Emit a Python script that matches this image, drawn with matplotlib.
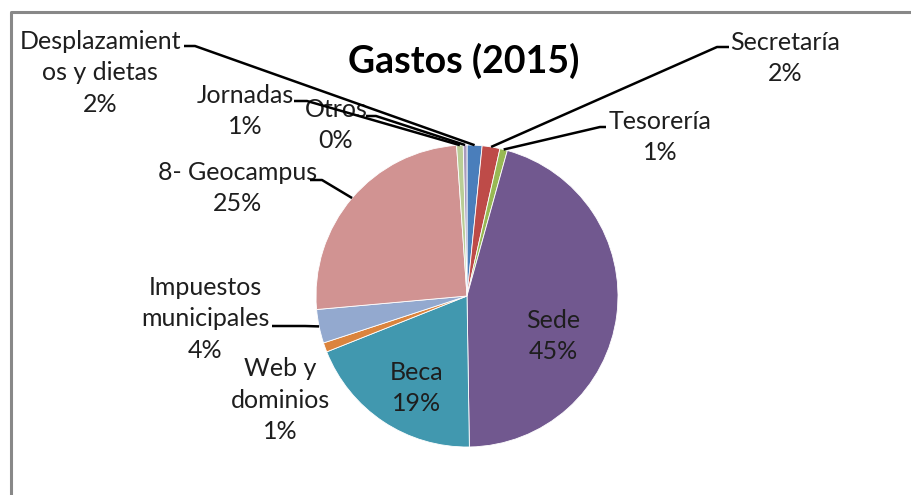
import numpy as np
import matplotlib
matplotlib.use("Agg")
import matplotlib.pyplot as plt

# data (share of spending, percent)
labels = ["Desplazamient\nos y dietas", "Secretaría", "Tesorería", "Sede", "Beca",
          "Web y\ndominios", "Impuestos\nmunicipales", "8- Geocampus", "Jornadas", "Otros"]
values = [1.6, 1.9, 0.8, 45.4, 19.2, 1.0, 3.6, 25.3, 0.7, 0.4]
colors = ["#4A7EBB", "#BE4B48", "#98B954", "#71588F", "#4198AF",
          "#DB843D", "#93A9CF", "#D19392", "#B9CD96", "#A99BBD"]

plt.rcParams['font.family'] = ['Lato', 'DejaVu Sans']

W, H = 911, 495
fig = plt.figure(figsize=(W / 100, H / 100), dpi=100)
ax = fig.add_axes([0, 0, 1, 1])


def py(y):
    # pixel row (from top) -> data y
    return H - y


cx, cy, r = 467, 296, 151
wedges, _ = ax.pie(values, colors=colors, startangle=90, counterclock=False,
                   center=(cx, py(cy)), radius=r,
                   wedgeprops=dict(linewidth=0.6, edgecolor="white"))

# pie() resets the limits, so set them afterwards
ax.set_xlim(0, W)
ax.set_ylim(0, H)
ax.set_aspect("equal")
ax.axis("off")

total = sum(values)
pcts = ["%d%%" % round(v / total * 100) for v in values]

# label centre (pixel) for each slice, and leader tick (x0, x1, y)
label_pos = {
    0: (100, 73), 1: (785, 58), 2: (660, 137), 3: (553, 336), 4: (417, 388),
    5: (280, 400), 6: (205, 319), 7: (238, 188), 8: (245, 111), 9: (336, 125),
}
ticks = {
    0: (184, 195, 46), 1: (729, 717, 47), 2: (606, 600, 127), 6: (272, 305, 326),
    7: (310, 322, 180), 8: (294, 307, 101), 9: (366, 376, 116),
}

fs = 18
for i, w in enumerate(wedges):
    x, y = label_pos[i]
    ax.text(x, py(y), labels[i] + "\n" + pcts[i], ha="center", va="center",
            fontsize=fs, color="#1e1e1e", linespacing=1.45, zorder=3)
    if i in ticks:
        x0, x1, yt = ticks[i]
        ang = np.deg2rad((w.theta1 + w.theta2) / 2)
        ex = cx + r * np.cos(ang)
        ey = py(cy) + r * np.sin(ang)
        ax.plot([x0, x1, ex], [py(yt), py(yt), ey], color="black", lw=1.8,
                solid_capstyle="butt", zorder=4)

ax.text(464, py(61), "Gastos (2015)", ha="center", va="center",
        fontsize=27, fontweight="bold", color="black")

# chart frame (clipped by the image edges like the screenshot)
ax.plot([11, 11, W + 5], [py(H + 5), py(12), py(12)], color="#888888", lw=2.2,
        clip_on=False)

fig.savefig("out.png", dpi=100, facecolor="white")
